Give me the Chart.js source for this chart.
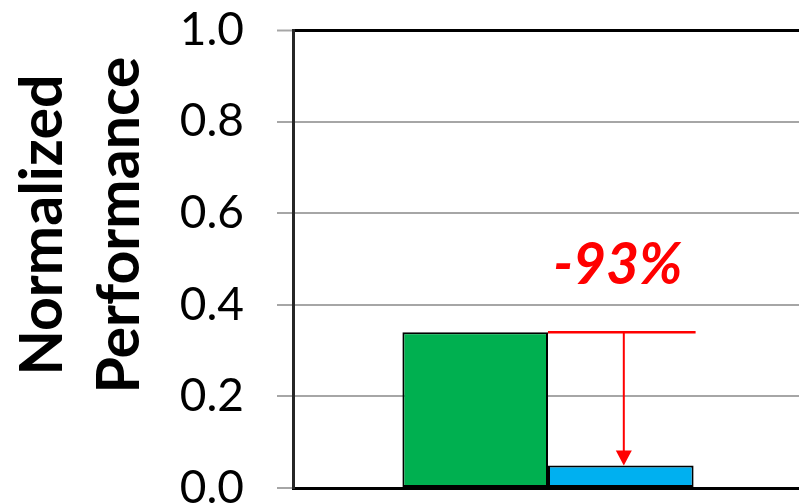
<!DOCTYPE html>
<html>
<head>
<meta charset="utf-8">
<script src="https://cdn.jsdelivr.net/npm/chart.js@4"></script>
<style>
  html, body { margin: 0; padding: 0; overflow: hidden; background: #ffffff; }
  #wrap { position: relative; width: 803px; height: 504px; }
</style>
</head>
<body>
<div id="wrap"><canvas id="chart"></canvas></div>
<script>
// Chart data
const categories = [""];
const baselineValues = [0.34];
const reducedValues = [0.049];
const tickLabels = ["0.0", "0.2", "0.4", "0.6", "0.8", "1.0"];
const axisTitleLines = ["Normalized", "Performance"];
const changeLabel = "-93%";

const GREEN = "#00B050";
const BLUE = "#00B0F0";
const RED = "#FF0000";
const GRID = "#A6A6A6";

// Rotated two-line y-axis title
const axisTitlePlugin = {
  id: "axisTitle",
  afterDraw(chart) {
    const ctx = chart.ctx;
    const area = chart.chartArea;
    ctx.save();
    ctx.fillStyle = "#000000";
    ctx.font = "bold 59px Lato";
    ctx.textAlign = "center";
    ctx.textBaseline = "middle";
    const cy = area.top + (area.bottom - area.top) * 0.426;
    const xs = [43, 120];
    axisTitleLines.forEach((line, i) => {
      ctx.save();
      ctx.translate(xs[i], cy);
      ctx.rotate(-Math.PI / 2);
      ctx.fillText(line, 0, 0);
      ctx.restore();
    });
    ctx.restore();
  }
};

// Reduction arrow and its label, placed from the two bars
const reductionPlugin = {
  id: "reduction",
  afterDatasetsDraw(chart) {
    const ctx = chart.ctx;
    const a = chart.getDatasetMeta(0).data[0];
    const b = chart.getDatasetMeta(1).data[0];
    if (!a || !b) return;
    const yTop = a.y;
    const yEnd = b.y;
    const xStart = a.x + a.width / 2;
    const xStop = b.x + b.width / 2 + 2;
    const xArrow = b.x + 3;
    ctx.save();
    ctx.strokeStyle = RED;
    ctx.fillStyle = RED;
    ctx.lineWidth = 2.5;
    ctx.beginPath();
    ctx.moveTo(xStart, yTop);
    ctx.lineTo(xStop, yTop);
    ctx.stroke();
    const head = 15;
    ctx.lineWidth = 2;
    ctx.beginPath();
    ctx.moveTo(xArrow, yTop);
    ctx.lineTo(xArrow, yEnd - head + 2);
    ctx.stroke();
    ctx.beginPath();
    ctx.moveTo(xArrow - 8, yEnd - head);
    ctx.lineTo(xArrow + 8, yEnd - head);
    ctx.lineTo(xArrow, yEnd);
    ctx.closePath();
    ctx.fill();
    ctx.font = "italic bold 57px Lato";
    ctx.textAlign = "center";
    ctx.textBaseline = "middle";
    ctx.fillText(changeLabel, b.x - 3, yTop - 67);
    ctx.restore();
  }
};

new Chart(document.getElementById("chart"), {
  type: "bar",
  data: {
    labels: categories,
    datasets: [
      {
        data: baselineValues,
        backgroundColor: GREEN,
        borderColor: "#000000",
        borderWidth: 2,
        borderSkipped: false
      },
      {
        data: reducedValues,
        backgroundColor: BLUE,
        borderColor: "#000000",
        borderWidth: 2,
        borderSkipped: false
      }
    ]
  },
  options: {
    responsive: true,
    maintainAspectRatio: false,
    animation: false,
    devicePixelRatio: 1,
    layout: { padding: { top: 30, bottom: 16, left: 0, right: 0 } },
    datasets: {
      bar: { categoryPercentage: 0.571, barPercentage: 1.0 }
    },
    plugins: {
      legend: { display: false },
      tooltip: { enabled: false },
      title: { display: false }
    },
    scales: {
      x: {
        ticks: { display: false },
        grid: { display: false, drawTicks: false },
        border: { display: true, color: "#000000", width: 3 }
      },
      y: {
        min: 0,
        max: 1,
        afterFit(scale) {
          scale.width = 293;
          scale.paddingTop = 0;
          scale.paddingBottom = 0;
        },
        ticks: {
          stepSize: 0.2,
          padding: 33,
          color: "#000000",
          font: { family: "Lato", size: 46 },
          callback: (v) => tickLabels[Math.round(v / 0.2)]
        },
        grid: {
          color: (c) => (c.tick && c.tick.value === 1 ? "#000000" : GRID),
          lineWidth: (c) => (c.tick && c.tick.value === 1 ? 3 : 2),
          tickColor: GRID,
          tickWidth: 2,
          tickLength: 16
        },
        border: { display: true, color: "#262626", width: 3 }
      }
    }
  },
  plugins: [axisTitlePlugin, reductionPlugin]
});
</script>
</body>
</html>
